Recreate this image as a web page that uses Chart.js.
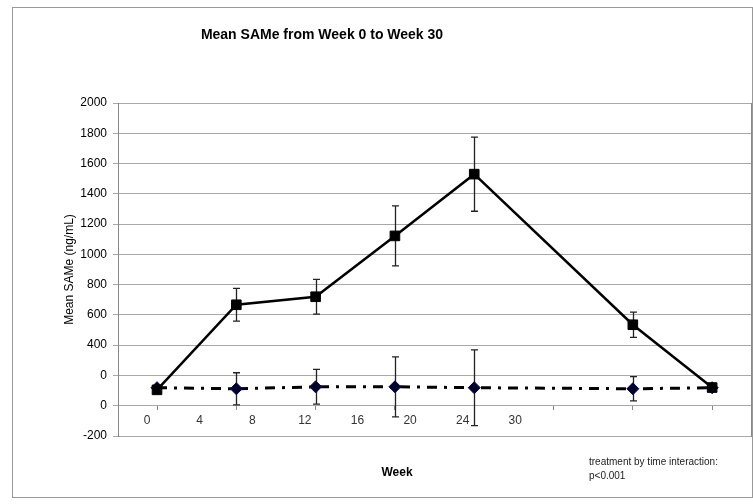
<!DOCTYPE html>
<html>
<head>
<meta charset="utf-8">
<script src="https://cdn.jsdelivr.net/npm/chart.js@4.4.1/dist/chart.umd.min.js"></script>
<style>
  html, body { margin: 0; padding: 0; background: #fff; }
</style>
</head>
<body>
<canvas id="myChart" width="753" height="504"></canvas>
<script>
// slot index along the x axis (slot 5 has no visit)
const slots = [0, 1, 2, 3, 4, 6, 7];

const treatMean = [105, 667, 720, 1122, 1530, 535, 120];
const treatErr = [0, 108, 115, 198, 245, 83, 0];

const placeboMean = [119, 112, 125, 125, 119, 112, 119];
const placeboErr = [0, 106, 115, 198, 250, 80, 0];

const xTickLabels = ["0", "4", "8", "12", "16", "20", "24", "30"];
const yTickLabels = ["-200", "0", "0", "400", "600", "800", "1000", "1200", "1400", "1600", "1800", "2000"];

const toPoints = (means) => slots.map((s, i) => ({ x: s, y: means[i] }));

// no side padding for the x axes, keep the plot edge where it is
const noSidePad = (scale) => {
  scale.paddingLeft = 0;
  scale.paddingRight = 0;
};

const errorBars = {
  id: "errorBars",
  beforeDatasetsDraw(chart) {
    const ctx = chart.ctx;
    const x = chart.scales.x;
    const y = chart.scales.y;
    ctx.save();
    ctx.strokeStyle = "#222";
    ctx.lineWidth = 1.3;
    chart.data.datasets.forEach((ds) => {
      ds.data.forEach((pt, i) => {
        const e = ds.errors[i];
        if (!e) return;
        const px = Math.round(x.getPixelForValue(pt.x)) + 0.5;
        const top = y.getPixelForValue(pt.y + e);
        const bot = y.getPixelForValue(pt.y - e);
        ctx.beginPath();
        ctx.moveTo(px, top);
        ctx.lineTo(px, bot);
        ctx.moveTo(px - 3.5, top);
        ctx.lineTo(px + 3.5, top);
        ctx.moveTo(px - 3.5, bot);
        ctx.lineTo(px + 3.5, bot);
        ctx.stroke();
      });
    });
    ctx.restore();
  },
};

const texts = {
  id: "texts",
  beforeDraw(chart) {
    const ctx = chart.ctx;
    ctx.save();
    ctx.fillStyle = "#fff";
    ctx.fillRect(0, 0, chart.width, chart.height);
    ctx.restore();
  },
  afterDraw(chart) {
    const ctx = chart.ctx;
    ctx.save();
    ctx.strokeStyle = "#999";
    ctx.lineWidth = 1;
    ctx.strokeRect(12.5, 7.5, 740, 490);

    ctx.fillStyle = "#000";
    ctx.textBaseline = "middle";
    ctx.textAlign = "center";
    ctx.font = "bold 14px 'Liberation Sans', Arial, sans-serif";
    ctx.fillText("Mean SAMe from Week 0 to Week 30", 322, 35);

    ctx.font = "bold 12px 'Liberation Sans', Arial, sans-serif";
    ctx.fillText("Week", 397, 473);

    ctx.textAlign = "left";
    ctx.fillStyle = "#222";
    ctx.font = "10px 'Liberation Sans', Arial, sans-serif";
    ctx.fillText("treatment by time interaction:", 589, 462);
    ctx.fillText("p<0.001", 589, 476);
    ctx.restore();
  },
};

const config = {
  type: "line",
  data: {
    datasets: [
      {
        label: "SAMe",
        data: toPoints(treatMean),
        errors: treatErr,
        borderColor: "#000",
        borderWidth: 2.5,
        pointStyle: "rect",
        pointRadius: 6.8,
        pointBackgroundColor: "#000",
        pointBorderColor: "#000",
        pointBorderWidth: 1,
        tension: 0,
      },
      {
        label: "Placebo",
        data: toPoints(placeboMean),
        errors: placeboErr,
        borderColor: "#000",
        borderWidth: 3,
        borderDash: [10, 7, 3, 7],
        pointStyle: "rectRot",
        pointRadius: 6,
        pointBackgroundColor: "#000022",
        pointBorderColor: "#00007a",
        pointBorderWidth: 1,
        tension: 0,
      },
    ],
  },
  options: {
    responsive: false,
    animation: false,
    layout: { autoPadding: false, padding: { top: 103, bottom: 68, left: 0, right: 2 } },
    plugins: {
      legend: { display: false },
      tooltip: { enabled: false },
      title: { display: false },
    },
    scales: {
      x: {
        type: "linear",
        position: { y: 0 },
        min: -0.492,
        max: 7.49,
        afterBuildTicks: (scale) => {
          scale.ticks = xTickLabels.map((t, i) => ({ value: i }));
        },
        afterFit: noSidePad,
        ticks: { display: false },
        grid: { drawOnChartArea: false, drawTicks: true, tickLength: 4, color: "#888" },
        border: { display: false },
      },
      xLabels: {
        type: "linear",
        axis: "x",
        position: { y: 0 },
        min: -0.551,
        max: 11.48,
        afterBuildTicks: (scale) => {
          scale.ticks = xTickLabels.map((t, i) => ({ value: i }));
        },
        afterFit: noSidePad,
        ticks: {
          callback: (v, i) => xTickLabels[i],
          autoSkip: false,
          maxRotation: 0,
          padding: 8,
          color: "#333",
          font: { family: "'Liberation Sans', Arial, sans-serif", size: 12 },
        },
        grid: { display: false, drawTicks: false },
        border: { display: false },
      },
      y: {
        type: "linear",
        position: "left",
        min: -200,
        max: 2000,
        afterBuildTicks: (scale) => {
          scale.ticks = yTickLabels.map((t, i) => ({ value: -200 + i * 200 }));
        },
        afterFit: (scale) => {
          scale.width = 118;
        },
        ticks: {
          callback: (v, i) => yTickLabels[i],
          padding: 6,
          color: "#000",
          font: { family: "'Liberation Sans', Arial, sans-serif", size: 12 },
        },
        grid: { color: "#a8a8a8", lineWidth: 1, drawTicks: true, tickLength: 5 },
        border: { display: true, color: "#888" },
        title: {
          display: true,
          text: "Mean SAMe (ng/mL)",
          color: "#000",
          padding: { top: 62, bottom: 0 },
          font: { family: "'Liberation Sans', Arial, sans-serif", size: 12 },
        },
      },
      yRight: {
        type: "linear",
        position: "right",
        min: -200,
        max: 2000,
        afterFit: (scale) => {
          scale.width = 0;
        },
        ticks: { display: false },
        grid: { display: false, drawTicks: false },
        border: { display: true, color: "#888" },
      },
    },
  },
  plugins: [errorBars, texts],
};

const myChart = new Chart(document.getElementById("myChart"), config);
</script>
</body>
</html>
